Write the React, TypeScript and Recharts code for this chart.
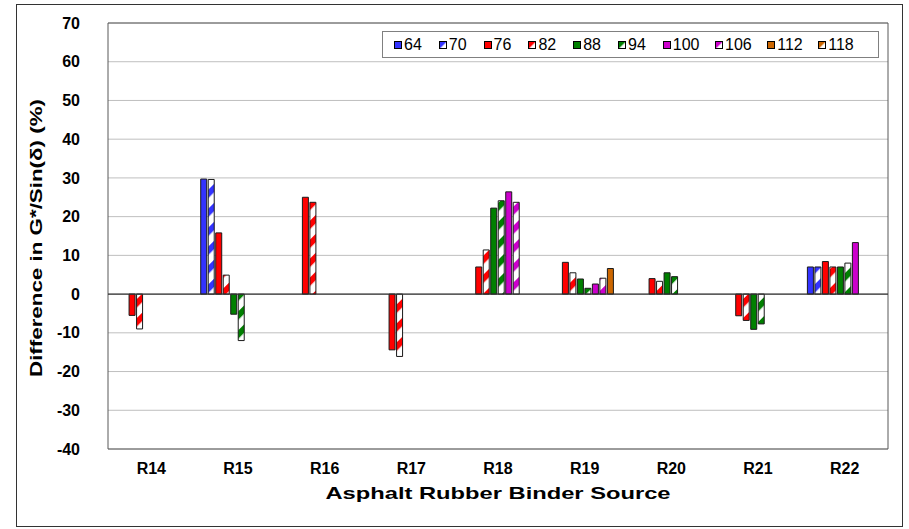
import React from "react";
import { BarChart, Bar, XAxis, YAxis, CartesianGrid, ReferenceLine, ReferenceArea } from "recharts";

const categories = ["R14", "R15", "R16", "R17", "R18", "R19", "R20", "R21", "R22"];
const seriesNames = ["64", "70", "76", "82", "88", "94", "100", "106", "112", "118"];

const v64 = [null, 29.7, null, null, null, null, null, null, 7.0];
const v70 = [null, 29.6, null, null, null, null, null, null, 7.0];
const v76 = [-5.5, 15.8, 25.0, -14.4, 7.0, 8.2, 4.0, -5.6, 8.4];
const v82 = [-9.0, 4.9, 23.7, -16.1, 11.4, 5.5, 3.3, -6.8, 7.0];
const v88 = [null, -5.2, null, null, 22.2, 3.9, 5.5, -9.1, 7.0];
const v94 = [null, -12.0, null, null, 24.1, 1.5, 4.5, -7.7, 8.0];
const v100 = [null, null, null, null, 26.4, 2.6, null, null, 13.3];
const v106 = [null, null, null, null, 23.7, 4.1, null, null, null];
const v112 = [null, null, null, null, null, 6.6, null, null, null];
const v118 = [null, null, null, null, null, null, null, null, null];

const yTicks = [-40, -30, -20, -10, 0, 10, 20, 30, 40, 50, 60, 70];

const X_TITLE = "Asphalt Rubber Binder Source";
const Y_TITLE = "Difference in G*/Sin(δ) (%)";

const valuesBySeries: Record<string, (number | null)[]> = {
  "64": v64,
  "70": v70,
  "76": v76,
  "82": v82,
  "88": v88,
  "94": v94,
  "100": v100,
  "106": v106,
  "112": v112,
  "118": v118,
};

// hatched series reuse the colour of the one before them
const STYLE: Record<string, { color: string; hatched: boolean }> = {
  "64": { color: "#3333ff", hatched: false },
  "70": { color: "#3333ff", hatched: true },
  "76": { color: "#ff0000", hatched: false },
  "82": { color: "#ff0000", hatched: true },
  "88": { color: "#008000", hatched: false },
  "94": { color: "#008000", hatched: true },
  "100": { color: "#cc00cc", hatched: false },
  "106": { color: "#cc00cc", hatched: true },
  "112": { color: "#cc6600", hatched: false },
  "118": { color: "#cc6600", hatched: true },
};

const data = categories.map((name, i) => {
  const row: Record<string, string | number | null> = { name };
  seriesNames.forEach((s) => {
    row[`s${s}`] = valuesBySeries[s][i];
  });
  return row;
});

const FONT = "'Liberation Sans', Arial, sans-serif";
const patId = (color: string) => `hatch-${color.replace("#", "")}`;
const fillFor = (s: string) => (STYLE[s].hatched ? `url(#${patId(STYLE[s].color)})` : STYLE[s].color);

function Patterns() {
  const colors = Array.from(new Set(seriesNames.filter((s) => STYLE[s].hatched).map((s) => STYLE[s].color)));
  return (
    <svg width={0} height={0} style={{ position: "absolute" }}>
      <defs>
        {colors.map((c) => (
          <pattern
            key={c}
            id={patId(c)}
            patternUnits="userSpaceOnUse"
            width={13.4}
            height={13.4}
            patternTransform="rotate(45)"
          >
            <rect x={0} y={0} width={13.4} height={13.4} fill="#ffffff" />
            <rect x={0} y={0} width={6} height={13.4} fill={c} />
          </pattern>
        ))}
      </defs>
    </svg>
  );
}

function ChartLegend() {
  return (
    <div
      style={{
        position: "absolute",
        left: 382,
        top: 31,
        width: 497,
        height: 27,
        boxSizing: "border-box",
        border: "1px solid #808080",
        background: "#fff",
        display: "flex",
        alignItems: "center",
        paddingLeft: 11,
        fontFamily: FONT,
        fontSize: 16,
        color: "#000",
      }}
    >
      {seriesNames.map((s) => (
        <div key={s} style={{ display: "flex", alignItems: "center", marginRight: s.length > 2 ? 15.5 : 17 }}>
          <svg width={8} height={8} style={{ marginRight: 2 }}>
            <rect x={0.5} y={0.5} width={7} height={7} fill={fillFor(s)} stroke="#000" strokeWidth={1} />
          </svg>
          <span>{s}</span>
        </div>
      ))}
    </div>
  );
}

function Titles() {
  const style = { fill: "#000", fontSize: 17, fontWeight: "bold" as const, fontFamily: FONT };
  return (
    <svg width={909} height={529} style={{ position: "absolute", left: 0, top: 0, pointerEvents: "none" }}>
      <text x={498} y={499} textAnchor="middle" textLength={345} lengthAdjust="spacingAndGlyphs" style={style}>
        {X_TITLE}
      </text>
      <text
        transform="translate(42,238) rotate(-90)"
        textAnchor="middle"
        textLength={278}
        lengthAdjust="spacingAndGlyphs"
        style={style}
      >
        {Y_TITLE}
      </text>
    </svg>
  );
}

export default function App() {
  return (
    <div style={{ position: "absolute", left: 0, top: 0, width: 909, height: 529, background: "#fff" }}>
      <Patterns />
      <div
        style={{
          position: "absolute",
          left: 16,
          top: 4,
          width: 887,
          height: 523,
          boxSizing: "border-box",
          border: "1px solid #333",
        }}
      />
      <div style={{ position: "absolute", left: 0, top: 0 }}>
        <BarChart
          width={909}
          height={529}
          data={data}
          margin={{ top: 23, right: 21, bottom: 50, left: 8 }}
          barCategoryGap="7%"
          barGap={1.5}
        >
          <CartesianGrid vertical={false} stroke="#bfbfbf" />
          <XAxis
            dataKey="name"
            height={30}
            axisLine={false}
            tickLine={false}
            tickSize={0}
            tickMargin={14}
            interval={0}
            tick={{ fill: "#000", fontSize: 16, fontWeight: "bold", fontFamily: FONT }}
          />
          <YAxis
            width={100}
            domain={[-40, 70]}
            ticks={yTicks}
            interval={0}
            axisLine={false}
            tickLine={false}
            tickSize={0}
            tickMargin={28}
            tick={{ fill: "#000", fontSize: 16, fontWeight: "bold", fontFamily: FONT }}
          />
          <ReferenceArea y1={-40} y2={70} fill="none" stroke="#595959" strokeWidth={1} ifOverflow="extendDomain" />
          {seriesNames.map((s) => (
            <Bar
              key={s}
              dataKey={`s${s}`}
              name={s}
              fill={fillFor(s)}
              stroke="#1a1a1a"
              strokeWidth={1}
              isAnimationActive={false}
            />
          ))}
          <ReferenceLine y={0} stroke="#333" strokeWidth={1.2} />
        </BarChart>
      </div>
      <Titles />
      <ChartLegend />
    </div>
  );
}
